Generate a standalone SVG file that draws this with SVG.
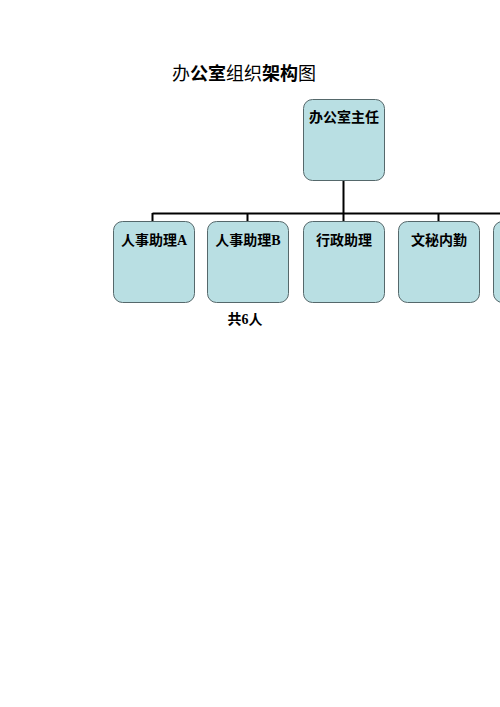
<svg xmlns="http://www.w3.org/2000/svg" width="500" height="707" viewBox="0 0 500 707">
<style>
.box{fill:#b9dfe3;stroke:#55686b;stroke-width:1}
.lbl{font-family:"Liberation Serif","Noto Sans CJK SC",serif;font-size:14px;font-weight:bold;fill:#000}
.cn{font-family:"Noto Sans CJK SC",sans-serif}
.title{font-family:"Noto Sans CJK SC",sans-serif;font-size:18px;fill:#000}
.conn{stroke:#000;stroke-width:2;fill:none}
</style>
<rect width="500" height="707" fill="#ffffff"/>
<text class="title" x="172" y="80"><tspan>办</tspan><tspan font-weight="bold">公室</tspan><tspan>组织</tspan><tspan font-weight="bold">架构</tspan><tspan>图</tspan></text>
<g id="connectors">
<path class="conn" d="M343.5 181V213.5M152.5 213.5H500M152.5 213V222M247.5 213V222M343.5 213V222M438.5 213V222"/>
</g>
<g id="n0"><rect class="box" x="303.5" y="99.5" width="81" height="81" rx="9"/><text class="lbl cn" x="344" y="122" text-anchor="middle">办公室主任</text></g>
<g id="n1"><rect class="box" x="113.5" y="221.5" width="81" height="81" rx="9"/><text class="lbl" x="154" y="245" text-anchor="middle"><tspan class="cn">人事助理</tspan>A</text></g>
<g id="n2"><rect class="box" x="207.5" y="221.5" width="81" height="81" rx="9"/><text class="lbl" x="248" y="245" text-anchor="middle"><tspan class="cn">人事助理</tspan>B</text></g>
<g id="n3"><rect class="box" x="303.5" y="221.5" width="81" height="81" rx="9"/><text class="lbl cn" x="344" y="245" text-anchor="middle">行政助理</text></g>
<g id="n4"><rect class="box" x="398.5" y="221.5" width="81" height="81" rx="9"/><text class="lbl cn" x="439" y="245" text-anchor="middle">文秘内勤</text></g>
<g id="n5"><rect class="box" x="493.5" y="221.5" width="81" height="81" rx="9"/></g>
<text class="lbl" x="245" y="324" text-anchor="middle" font-size="11"><tspan class="cn">共</tspan>6<tspan class="cn">人</tspan></text>
</svg>
